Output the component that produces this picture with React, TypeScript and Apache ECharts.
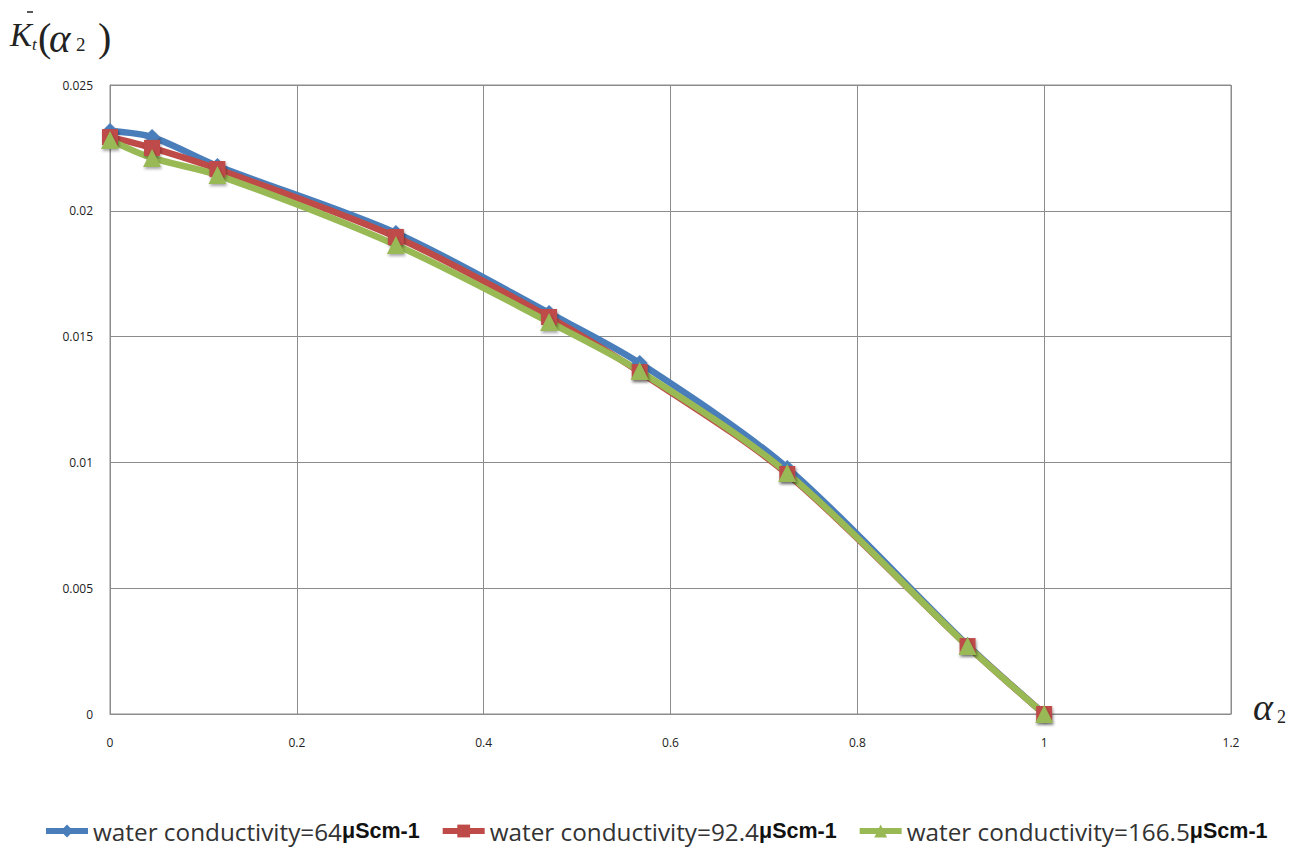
import React, { useEffect, useRef } from "react";
import * as echarts from "echarts";

const xValues = [0, 0.045, 0.115, 0.306, 0.47, 0.567, 0.725, 0.918, 1.0];
const blueValues = [0.02317, 0.02293, 0.02178, 0.01912, 0.01594, 0.01395, 0.00978, 0.00274, 0];
const redValues = [0.02293, 0.0225, 0.02166, 0.01896, 0.01578, 0.01359, 0.00954, 0.0027, 0];
const greenValues = [0.02281, 0.0221, 0.02142, 0.01864, 0.01558, 0.01363, 0.00958, 0.0027, 0];
const seriesNames = [
  "water conductivity=64",
  "water conductivity=92.4",
  "water conductivity=166.5",
];
const unitLabel = "μScm-1";

const pairs = (ys: number[]) => xValues.map((x, i) => [x, ys[i]]);

const SERIF = "Liberation Serif, serif";

export default function App() {
  const ref = useRef<HTMLDivElement>(null);
  useEffect(() => {
    document.body.style.margin = "0";
    const chart = echarts.init(ref.current!, null, { renderer: "svg" });
    const mk = (name: string, ys: number[], color: string, symbol: string, size: number) => ({
      name,
      type: "line",
      data: pairs(ys),
      smooth: 0.3,
      symbol,
      symbolSize: size,
      lineStyle: { width: 6.5, color },
      itemStyle: {
        color,
        shadowColor: "rgba(0,0,0,0.35)",
        shadowBlur: 3,
        shadowOffsetX: 1,
        shadowOffsetY: 2,
      },
    });
    const txt = (text: string, x: number, y: number, size: number, italic: boolean) => ({
      type: "text",
      x,
      y,
      silent: true,
      style: {
        text,
        fontSize: size,
        fontStyle: italic ? "italic" : "normal",
        fontFamily: SERIF,
        fill: "#222",
        align: "left",
        verticalAlign: "middle",
      },
    });
    chart.setOption({
      animation: false,
      backgroundColor: "#ffffff",
      grid: {
        left: 110,
        right: 80,
        top: 85,
        bottom: 137,
        show: true,
        borderColor: "#8c8c8c",
        borderWidth: 1,
      },
      xAxis: {
        type: "value",
        min: 0,
        max: 1.2,
        interval: 0.2,
        axisLine: { show: true, lineStyle: { color: "#8c8c8c" } },
        axisTick: { show: false },
        splitLine: { show: true, lineStyle: { color: "#8c8c8c" } },
        axisLabel: {
          color: "#222",
          fontSize: 12,
          margin: 22,
          fontFamily: "Open Sans, sans-serif",
          formatter: (v: number) => (v === 0 ? "0" : String(Number(v.toFixed(1)))),
        },
      },
      yAxis: {
        type: "value",
        min: 0,
        max: 0.025,
        interval: 0.005,
        axisLine: { show: true, lineStyle: { color: "#8c8c8c" } },
        axisTick: { show: false },
        splitLine: { show: true, lineStyle: { color: "#8c8c8c" } },
        axisLabel: {
          color: "#222",
          fontSize: 12,
          margin: 17,
          fontFamily: "Open Sans, sans-serif",
          formatter: (v: number) => (v === 0 ? "0" : String(Number(v.toFixed(3)))),
        },
      },
      legend: {
        top: 814,
        left: 38,
        itemGap: 20,
        itemWidth: 42,
        itemHeight: 16,
        data: seriesNames,
        lineStyle: { width: 6 },
        formatter: (n: string) => `{a|${n}}{b|${unitLabel}}`,
        textStyle: {
          rich: {
            a: { fontSize: 24.3, color: "#333", fontFamily: "Open Sans, sans-serif" },
            b: {
              fontSize: 21.5,
              fontWeight: "bold",
              color: "#111",
              fontFamily: "Liberation Sans, Arial, sans-serif",
            },
          },
        },
      },
      graphic: [
        txt("K", 10, 35, 33, true),
        txt("t", 32, 44, 17, true),
        txt("(", 38, 37, 40, false),
        txt("α", 49, 38, 41, true),
        txt("2", 76, 44, 19, false),
        txt(")", 98, 37, 40, false),
        {
          type: "line",
          silent: true,
          shape: { x1: 27, y1: 12, x2: 33, y2: 12 },
          style: { stroke: "#222", lineWidth: 1.5 },
        },
        txt("α", 1253, 707, 38, true),
        txt("2", 1277, 717, 18, false),
      ],
      series: [
        mk(seriesNames[0], blueValues, "#4a7ebb", "diamond", 16),
        mk(seriesNames[1], redValues, "#be4b48", "rect", 16),
        mk(seriesNames[2], greenValues, "#98b954", "triangle", 18),
      ],
    });
    return () => chart.dispose();
  }, []);
  return <div ref={ref} style={{ width: 1311, height: 851, overflow: "hidden" }} />;
}
